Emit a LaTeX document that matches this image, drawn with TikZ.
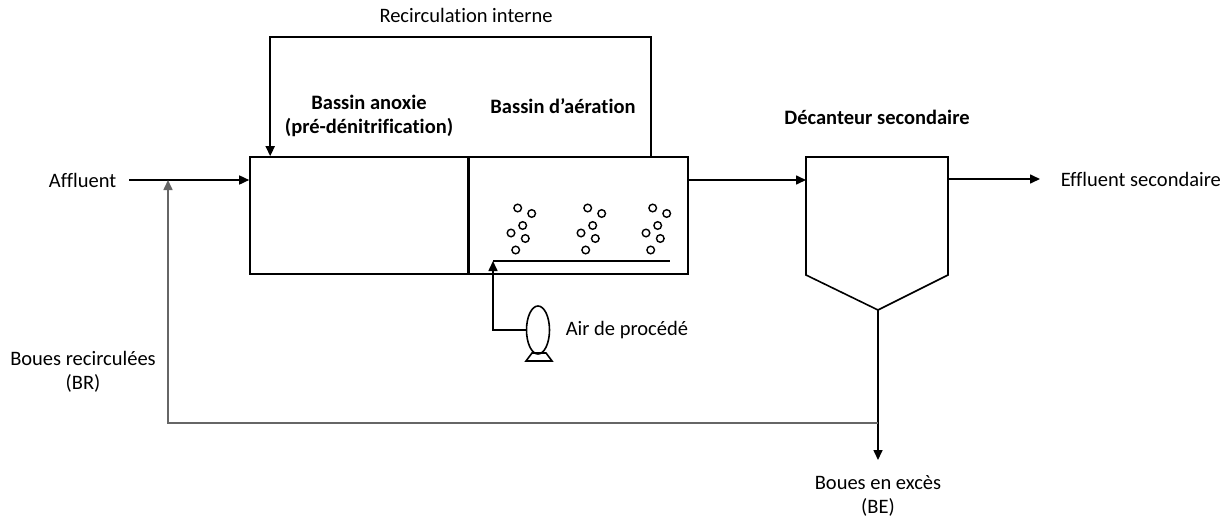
\documentclass[tikz,border=0pt]{standalone}
\usepackage{fontspec}
\setmainfont{Carlito}[Ligatures=NoCommon]
\usetikzlibrary{arrows.meta,positioning,shapes.geometric}

\tikzset{
  flow/.style={-{Triangle[length=5pt,width=4.5pt]}},
  tank/.style={draw,inner sep=0pt,minimum height=58.5pt},
  txt/.style={inner sep=0pt,font=\fontsize{10.25}{12}\selectfont},
  title/.style={inner sep=0pt,font=\fontsize{10.25}{12}\selectfont\bfseries},
  sludge/.style={draw=black!60}
}

\begin{document}
\begin{tikzpicture}[x=0.5pt,y=-0.5pt,line width=0.8pt]
\useasboundingbox (0,0) rectangle (1227,520);
\node[txt] (recirc) at (466,15) {Recirculation interne};
\node[title,align=center] (anoxlbl) at (369,116) {Bassin anoxie\\(pré-dénitrification)};
\node[title] (aerlbl) at (563,106) {Bassin d’aération};
\node[title] (declbl) at (877,117) {Décanteur secondaire};
\node[txt,anchor=east] (affluent) at (117,180) {Affluent};
\node[txt,anchor=west] (effluent) at (1060,179) {Effluent secondaire};
\node[txt,anchor=west] (airlbl) at (565,330) {Air de procédé};
\node[txt,align=center] (brlbl) at (83,372) {Boues recirculées\\(BR)};
\node[txt,align=center] (belbl) at (878,496) {Boues en excès\\(BE)};
\node[tank,minimum width=109pt] (anox) at (359,215.5) {};
\node[tank,minimum width=110pt] (aer) at (578,215.5) {};
\draw[line width=1.5pt] (anox.north east) -- (anox.south east);
\coordinate (lvl) at (0,180);
\coordinate (mix) at (168,180);
\coordinate (decNW) at (806,157);
\coordinate (decNE) at (948,157);
\coordinate (decSE) at (948,275);
\coordinate (decB) at (878,310);
\coordinate (decSW) at (806,275);
\coordinate (rbot) at (878,423);
\coordinate (beout) at (878,460);
\coordinate (diffW) at (493,261);
\coordinate (diffE) at (670,261);
\draw (decSW) -- (decNW) -- (decNE) -- (decSE) -- (decB) -- cycle;
\draw[flow] ([xshift=6pt]affluent.east) -- (affluent.east -| anox.west);
\draw[flow] ([xshift=92pt]aer.north west) -- ++(0,-119) -| ([xshift=10.5pt]anox.north west);
\draw[flow] (aer.east |- lvl) -- (decNW |- lvl);
\draw[flow] (decNE |- effluent.west) -- ([xshift=-10pt]effluent.west);
\draw[flow] (decB) -- (beout);
\draw[flow,sludge] (rbot) -| (mix);
\draw (diffW) -- (diffE);
\node[draw,ellipse,inner sep=0pt,minimum width=11.5pt,minimum height=24pt] (blower) at (538,330) {};
\draw (532,353) -- (546,353) -- (552,361) -- (526,361) -- cycle;
\draw[flow] (blower.west) -| (diffW);
\foreach \dx in {0,70,135}
  \foreach \bx/\by in {517.7/208,531.7/213.5,522.7/225.5,511/233,525.3/238.5,515.7/250}
    \draw[line width=0.7pt] (\bx+\dx,\by) circle[radius=1.9pt];
\end{tikzpicture}
\end{document}
